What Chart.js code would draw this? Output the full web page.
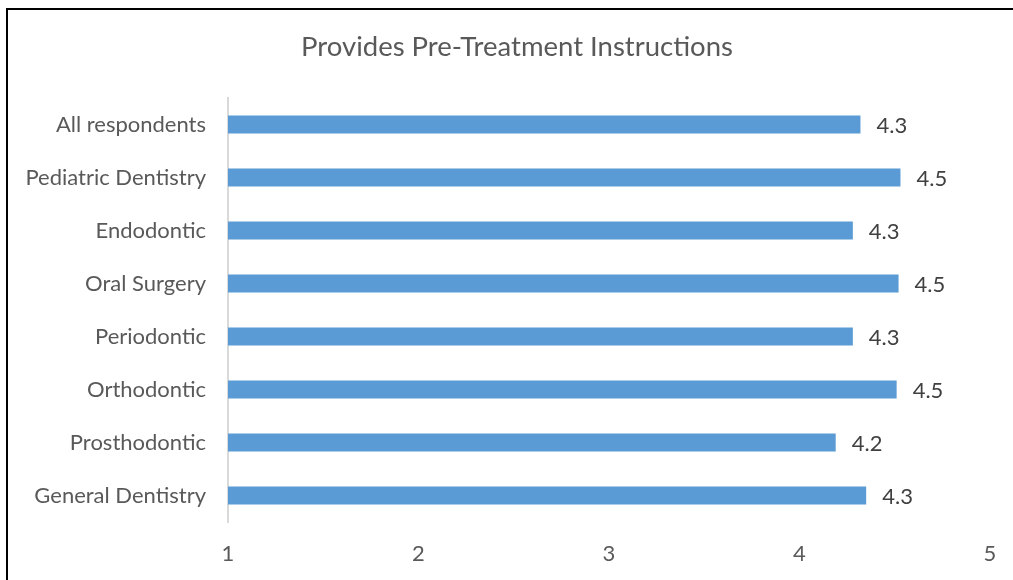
<!DOCTYPE html>
<html>
<head>
<meta charset="utf-8">
<script src="https://cdn.jsdelivr.net/npm/chart.js@4/dist/chart.umd.min.js"></script>
<style>
  html, body { margin: 0; padding: 0; background: #fff; overflow: hidden; }
  #frame {
    position: absolute; left: 6px; top: 8px;
    width: 1100px; height: 700px;
    border: 2px solid #000; box-sizing: border-box;
  }
  #wrap { position: absolute; left: 0; top: 0; width: 1013px; height: 580px; }
</style>
</head>
<body>
<div id="frame"></div>
<div id="wrap"><canvas id="bar_canvas"></canvas></div>
<script>
var chartTitle = 'Provides Pre-Treatment Instructions';
var categories = [
    'All respondents',
    'Pediatric Dentistry',
    'Endodontic',
    'Oral Surgery',
    'Periodontic',
    'Orthodontic',
    'Prosthodontic',
    'General Dentistry'
];
var scores = [4.32, 4.53, 4.28, 4.52, 4.28, 4.51, 4.19, 4.35];
var xTicks = [1, 2, 3, 4, 5];

// draws the value next to the end of each bar
var valueLabels = {
    id: 'valueLabels',
    afterDatasetsDraw: function(chart) {
        var ctx = chart.ctx;
        var meta = chart.getDatasetMeta(0);
        ctx.save();
        ctx.font = '22px Lato';
        ctx.fillStyle = '#404040';
        ctx.textAlign = 'left';
        ctx.textBaseline = 'middle';
        meta.data.forEach(function(bar, i) {
            ctx.fillText(scores[i].toFixed(1), bar.x + 16, bar.y + 1);
        });
        ctx.restore();
    }
};

// title is drawn by hand, the built-in one can't sit off-centre
var offsetTitle = {
    id: 'offsetTitle',
    afterDraw: function(chart) {
        var ctx = chart.ctx;
        ctx.save();
        ctx.font = '27.5px Lato';
        ctx.fillStyle = '#595959';
        ctx.textAlign = 'center';
        ctx.textBaseline = 'middle';
        ctx.fillText(chartTitle, 517, 47);
        ctx.restore();
    }
};

function createGraphic() {
    const canvas = document.getElementById('bar_canvas');
    new Chart(canvas, {
        type: 'bar',
        data: {
            labels: categories,
            datasets: [{
                data: scores,
                backgroundColor: '#5B9BD5',
                categoryPercentage: 1,
                barPercentage: 0.34
            }]
        },
        options: {
            indexAxis: 'y',
            responsive: true,
            maintainAspectRatio: false,
            animation: false,
            layout: { padding: { top: 98, right: 23, left: 0, bottom: 0 } },
            plugins: {
                legend: { display: false },
                tooltip: { enabled: false },
                title: { display: false }
            },
            scales: {
                x: {
                    min: 1,
                    max: 5,
                    afterBuildTicks: function(axis) {
                        axis.ticks = xTicks.map(function(v) { return { value: v }; });
                    },
                    afterFit: function(axis) {
                        axis.height = 58;
                        axis.paddingLeft = 0;
                        axis.paddingRight = 0;
                    },
                    grid: { display: false, drawTicks: false },
                    border: { display: false },
                    ticks: {
                        color: '#595959',
                        padding: 19,
                        font: { family: 'Lato', size: 22 }
                    }
                },
                y: {
                    afterFit: function(axis) { axis.width = 228; },
                    grid: { display: false, drawTicks: false },
                    border: { display: true, color: '#d9d9d9', width: 2 },
                    ticks: {
                        color: '#595959',
                        padding: 22,
                        font: { family: 'Lato', size: 22 }
                    }
                }
            }
        },
        plugins: [valueLabels, offsetTitle]
    });
}

createGraphic();
</script>
</body>
</html>
